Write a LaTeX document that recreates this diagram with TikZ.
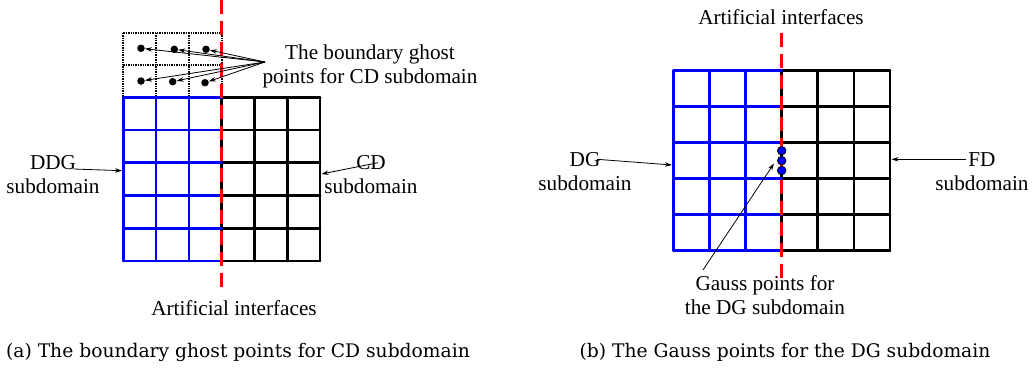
\documentclass[tikz,border=0pt]{standalone}
\usepackage{fontspec}
\setmainfont{Liberation Serif}
\newfontfamily\capfont{DejaVu Serif}
\usetikzlibrary{arrows.meta}

\begin{document}
\begin{tikzpicture}[x=1pt,y=-1pt,
  gridline/.style={line width=2.6pt, line cap=round, line join=round},
  dgline/.style={gridline, blue},
  fdline/.style={gridline, black},
  ghostline/.style={black, line width=2.2pt, dash pattern=on 1.5pt off 0.9pt},
  iface/.style={red, line width=3pt, dash pattern=on 14pt off 7pt},
  lbl/.style={font=\fontsize{21.2}{24}\selectfont, align=center, inner sep=0pt},
  ptr/.style={-{Stealth[length=7pt,width=4.5pt]}, line width=0.8pt},
  ghostpt/.style={circle, fill=black, inner sep=0pt, minimum size=7.5pt},
  gausspt/.style={circle, draw=black, fill=blue, line width=0.8pt, inner sep=0pt, minimum size=8.5pt},
  capstyle/.style={font=\capfont\fontsize{18.7}{22}\selectfont, inner sep=0pt}
]
\useasboundingbox (0,0) rectangle (1034,367);

% ---------- (a) DDG / CD coupling ----------
% ghost layer above the DDG block
\foreach \r in {0,1}
  \draw[ghostline] (123.3,32.7+\r*32.3) -- (221.7,32.7+\r*32.3);
\foreach \c in {0,...,3}
  \draw[ghostline] (123.3+\c*32.8,32.7) -- (123.3+\c*32.8,97.3);
% CD block (black)
\foreach \r in {0,...,5}
  \draw[fdline] (221.7,97.3+\r*32.74) -- (320,97.3+\r*32.74);
\foreach \c in {3,...,6}
  \draw[fdline] (123.3+\c*32.78,97.3) -- (123.3+\c*32.78,261);
% DDG block (blue)
\foreach \r in {0,...,5}
  \draw[dgline] (123.3,97.3+\r*32.74) -- (221.7,97.3+\r*32.74);
\foreach \c in {0,1,2}
  \draw[dgline] (123.3+\c*32.78,97.3) -- (123.3+\c*32.78,261);
% interface
\coordinate (ifaTop) at (221.7,0);
\coordinate (ifaBot) at (221.7,293);
\draw[iface] (ifaTop) -- (ifaBot);

% ghost points
\node[ghostpt] (g1) at (141,48.3) {};
\node[ghostpt] (g2) at (174.3,49.3) {};
\node[ghostpt] (g3) at (206,49.3) {};
\node[ghostpt] (g4) at (141,81) {};
\node[ghostpt] (g5) at (172.7,81.7) {};
\node[ghostpt] (g6) at (205,82.7) {};

\node[lbl] (ghostlbl) at (370,66.5) {The boundary ghost\\points for CD subdomain};
\coordinate (gsrc) at (265,62);
\foreach \g in {g1,g2,g3,g4,g5,g6}
  \draw[ptr] (gsrc) -- (\g);

\node[lbl] (ddgl) at (53,175) {DDG\\subdomain};
\coordinate (ddgTail) at (73.3,169);
\coordinate (ddgTip) at (122,170.7);
\draw[ptr] (ddgTail) -- (ddgTip);

\node[lbl] (cdl) at (371,174.5) {CD\\subdomain};
\coordinate (cdTail) at (378,162.7);
\coordinate (cdTip) at (321.5,174);
\draw[ptr] (cdTail) -- (cdTip);

\node[lbl] (ail) at (234,308) {Artificial interfaces};

\node[capstyle] (capa) at (238,352) {(a) The boundary ghost points for CD subdomain};

% ---------- (b) DG / FD coupling ----------
\foreach \r in {0,...,5}
  \draw[fdline] (781.7,70.7+\r*36) -- (890,70.7+\r*36);
\foreach \c in {3,...,6}
  \draw[fdline] (673.3+\c*36.12,70.7) -- (673.3+\c*36.12,250.7);
\foreach \r in {0,...,5}
  \draw[dgline] (673.3,70.7+\r*36) -- (781.7,70.7+\r*36);
\foreach \c in {0,1,2}
  \draw[dgline] (673.3+\c*36.12,70.7) -- (673.3+\c*36.12,250.7);
\coordinate (ifbTop) at (781.7,33);
\coordinate (ifbBot) at (781.7,278);
\draw[iface] (ifbTop) -- (ifbBot);

\node[gausspt] (q1) at (781.7,150.7) {};
\node[gausspt] (q2) at (781.7,160.6) {};
\node[gausspt] (q3) at (781.7,170.5) {};

\node[lbl] (air) at (781,17) {Artificial interfaces};

\node[lbl] (dgl) at (585,172) {DG\\subdomain};
\coordinate (dgTail) at (597,159.3);
\coordinate (dgTip) at (672,165);
\draw[ptr] (dgTail) -- (dgTip);

\node[lbl] (fdl) at (982,172) {FD\\subdomain};
\coordinate (fdTail) at (966,159.3);
\coordinate (fdTip) at (891.5,159.3);
\draw[ptr] (fdTail) -- (fdTip);

\node[lbl] (gaussl) at (765,295) {Gauss points for\\the DG subdomain};
\coordinate (gaTail) at (703,270);
\coordinate (gaTip) at (774,163.5);
\draw[ptr] (gaTail) -- (gaTip);

\node[capstyle] (capb) at (785,352) {(b) The Gauss points for the DG subdomain};
\end{tikzpicture}
\end{document}
